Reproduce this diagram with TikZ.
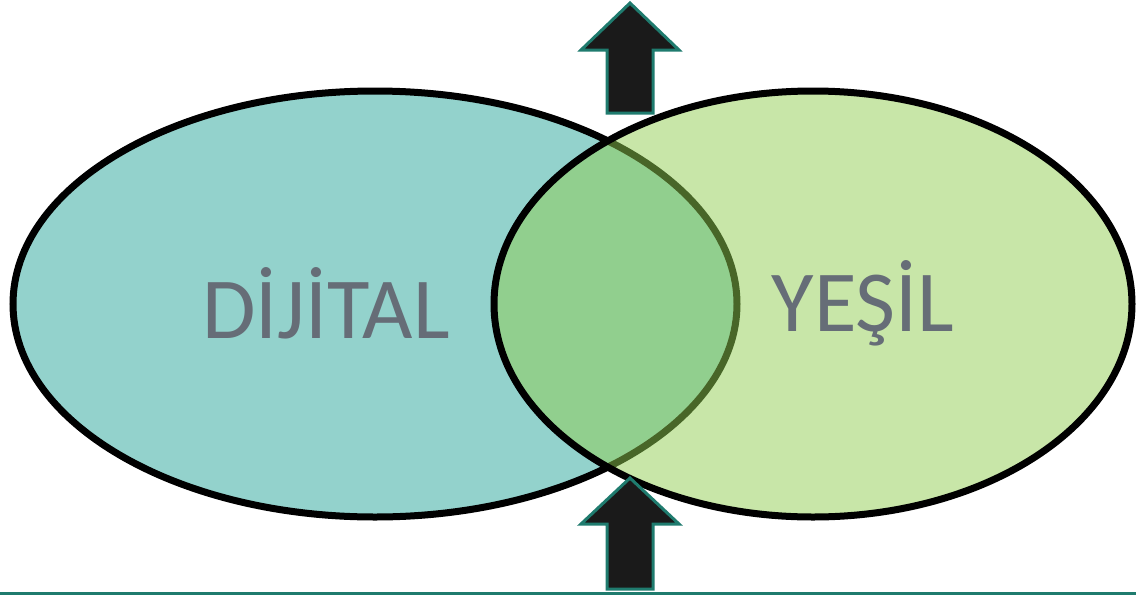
\documentclass[tikz,border=0pt]{standalone}
\usepackage{fontspec}
\setmainfont{Carlito}
\definecolor{tealfill}{RGB}{147,210,204}
\definecolor{greenfill}{RGB}{145,205,81}
\definecolor{labelgray}{RGB}{102,109,119}
\definecolor{tealline}{RGB}{31,123,110}
\definecolor{arrowfill}{RGB}{26,26,26}
\tikzset{
  ring/.style={draw=black, line width=7pt},
  blockarrow/.style={draw=tealline, line width=3pt, fill=arrowfill, line join=miter},
  biglabel/.style={text=labelgray, font=\fontsize{87}{90}\selectfont, inner sep=0pt}
}
\begin{document}
\begin{tikzpicture}[x=1pt,y=-1pt]
\useasboundingbox (0,0) rectangle (1136,595);
% left ellipse
\path[ring, fill=tealfill] (375,304) ellipse [x radius=362, y radius=213];
\node[biglabel] (dijital) at (326,303) {DİJİTAL};
% right ellipse
\path[ring, fill=greenfill, fill opacity=0.5] (813,304) ellipse [x radius=319, y radius=213];
\node[biglabel] (yesil) at (863,303) {YEŞİL};
% arrows
\path[blockarrow] (630,3) -- (679,50) -- (653,50) -- (653,113) -- (607,113) -- (607,50) -- (581,50) -- cycle;
\path[blockarrow] (630,478) -- (679,524) -- (653,524) -- (653,589) -- (607,589) -- (607,524) -- (581,524) -- cycle;
% bottom line
\coordinate (lineL) at (0,593);
\coordinate (lineR) at (1136,593);
\draw[tealline, line width=3pt] (lineL) -- (lineR);
\end{tikzpicture}
\end{document}
